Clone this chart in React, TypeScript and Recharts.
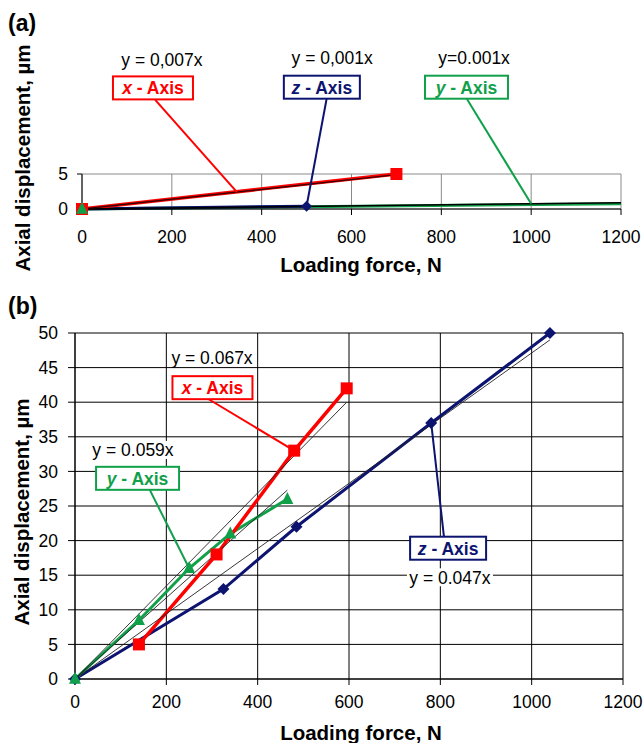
import React from "react";
import {
  LineChart,
  Line,
  XAxis,
  YAxis,
  CartesianGrid,
  ReferenceLine,
  ReferenceDot,
} from "recharts";

const RED = "#ff0000";
const GREEN = "#11a04a";
const NAVY = "#0c1470";
const FONT = "'Liberation Sans', Arial, sans-serif";

// loading force (N) -> axial displacement (um)
const forceTicks = [0, 200, 400, 600, 800, 1000, 1200];

// panel (a)
const aDispTicks = [0, 5];
const aXAxis = [{ f: 0, d: 0 }, { f: 700, d: 5 }];
const aZAxis = [{ f: 0, d: 0 }, { f: 500, d: 0.4 }];
const aYAxis = [{ f: 0, d: 0 }, { f: 1200, d: 0.75 }];
const aTrendX = [{ f: 0, d: 0 }, { f: 700, d: 4.9 }];
const aTrendYZ = [{ f: 0, d: 0 }, { f: 1200, d: 0.9 }];

// panel (b)
const bDispTicks = [0, 5, 10, 15, 20, 25, 30, 35, 40, 45, 50];
const bXAxis = [
  { f: 140, d: 5 },
  { f: 310, d: 18 },
  { f: 480, d: 33 },
  { f: 595, d: 42 },
];
const bYAxis = [
  { f: 0, d: 0 },
  { f: 140, d: 8.5 },
  { f: 250, d: 16 },
  { f: 340, d: 21 },
  { f: 465, d: 26 },
];
const bZAxis = [
  { f: 0, d: 0 },
  { f: 325, d: 13 },
  { f: 485, d: 22 },
  { f: 780, d: 37 },
  { f: 1040, d: 50 },
];
const bTrendX = [{ f: 0, d: 0 }, { f: 595, d: 40 }];
const bTrendY = [{ f: 0, d: 0 }, { f: 465, d: 27.3 }];
const bTrendZ = [{ f: 0, d: 0 }, { f: 1040, d: 49 }];

// callouts, placed in data units
const notesA = [
  { label: "x", color: RED, box: [158, 17.3], w: 80, from: [163, 15.6], to: [345, 2.4], eq: "y = 0,007x", eqAt: [178, 21.3] },
  { label: "z", color: NAVY, box: [534, 17.4], w: 76, from: [545, 15.9], to: [500, 0.4], eq: "y = 0,001x", eqAt: [557, 21.6] },
  { label: "y", color: GREEN, box: [856, 17.4], w: 83, from: [857, 15.7], to: [1000, 0.75], eq: "y=0.001x", eqAt: [873, 21.6] },
];
const notesB = [
  { label: "x", color: RED, box: [301, 42.1], w: 80, from: [291, 40.5], to: [480, 33], eq: "y = 0.067x", eqAt: [300, 46.4] },
  { label: "y", color: GREEN, box: [137, 29], w: 83, from: [164, 27.3], to: [250, 16], eq: "y = 0.059x", eqAt: [127, 33.1] },
  { label: "z", color: NAVY, box: [817, 18.9], w: 76, from: [808, 20.5], to: [780, 37], eq: "y = 0.047x", eqAt: [821, 14.7] },
];

const squareDot = (s: number, color: string) => (p: any) => {
  if (p.cx == null) return <g key={`sq${p.index}`} />;
  return <rect key={`sq${p.index}`} x={p.cx - s / 2} y={p.cy - s / 2} width={s} height={s} fill={color} />;
};

const triangleDot = (s: number, color: string, onlyFirst = false) => (p: any) => {
  if (p.cx == null || (onlyFirst && p.index > 0)) return <g key={`tr${p.index}`} />;
  const { cx, cy } = p;
  return (
    <polygon
      key={`tr${p.index}`}
      points={`${cx},${cy - s * 0.6} ${cx - s / 2},${cy + s * 0.4} ${cx + s / 2},${cy + s * 0.4}`}
      fill={color}
    />
  );
};

const diamondDot = (s: number, color: string) => (p: any) => {
  if (p.cx == null) return <g key={`dm${p.index}`} />;
  const { cx, cy } = p;
  return (
    <polygon
      key={`dm${p.index}`}
      points={`${cx},${cy - s / 2} ${cx + s / 2},${cy} ${cx},${cy + s / 2} ${cx - s / 2},${cy}`}
      fill={color}
    />
  );
};

const boxShape = (label: string, color: string, w: number) => (p: any) => (
  <g>
    <rect x={p.cx - w / 2} y={p.cy - 11.5} width={w} height={23} fill="#fff" stroke={color} strokeWidth={2} />
    <text
      x={p.cx}
      y={p.cy}
      dy="0.36em"
      textAnchor="middle"
      fill={color}
      fontFamily={FONT}
      fontWeight="bold"
      fontSize={17.5}
    >
      <tspan fontStyle="italic">{label}</tspan> - Axis
    </text>
  </g>
);

const eqShape = (eq: string) => (p: any) => (
  <g>
    <rect x={p.cx - 43} y={p.cy - 9} width={86} height={18} fill="#fff" />
    <text x={p.cx} y={p.cy} dy="0.36em" textAnchor="middle" fill="#000" fontFamily={FONT} fontSize={17.5}>
      {eq}
    </text>
  </g>
);

function renderNotes(notes: typeof notesA) {
  return notes.flatMap((n) => [
    <ReferenceLine
      key={`l${n.label}`}
      segment={[
        { x: n.from[0], y: n.from[1] },
        { x: n.to[0], y: n.to[1] },
      ]}
      stroke={n.color}
      strokeWidth={2}
      ifOverflow="visible"
    />,
    <ReferenceDot
      key={`e${n.label}`}
      x={n.eqAt[0]}
      y={n.eqAt[1]}
      r={1}
      ifOverflow="visible"
      shape={eqShape(n.eq)}
    />,
    <ReferenceDot
      key={`b${n.label}`}
      x={n.box[0]}
      y={n.box[1]}
      r={1}
      ifOverflow="visible"
      shape={boxShape(n.label, n.color, n.w)}
    />,
  ]);
}

const tickStyle = { fill: "#000", fontSize: 17.5, fontFamily: FONT };
const titleProps = { fontFamily: FONT, fontWeight: "bold" as const, fontSize: 20.5, fill: "#000" };

function PanelA() {
  return (
    <LineChart width={644} height={290} margin={{ top: 174, right: 23, bottom: 0, left: 0 }}>
      <CartesianGrid stroke="#8a8a8a" strokeWidth={1} />
      <XAxis
        type="number"
        dataKey="f"
        domain={[0, 1200]}
        ticks={forceTicks}
        interval={0}
        height={81}
        tick={tickStyle}
        tickSize={6}
        tickMargin={16}
        axisLine={{ stroke: "#000" }}
        tickLine={{ stroke: "#000" }}
      />
      <YAxis
        type="number"
        dataKey="d"
        domain={[0, 5]}
        ticks={aDispTicks}
        width={82}
        tick={tickStyle}
        tickSize={5}
        tickMargin={9}
        axisLine={{ stroke: "#000" }}
        tickLine={{ stroke: "#000" }}
      />
      <Line data={aYAxis} dataKey="d" stroke={GREEN} strokeWidth={3} dot={false} isAnimationActive={false} />
      <Line data={aZAxis} dataKey="d" stroke={NAVY} strokeWidth={3} dot={diamondDot(11, NAVY)} isAnimationActive={false} />
      <Line data={aXAxis} dataKey="d" stroke={RED} strokeWidth={3.5} dot={squareDot(12, RED)} isAnimationActive={false} />
      <Line data={aTrendYZ} dataKey="d" stroke="#000" strokeWidth={1.5} dot={false} isAnimationActive={false} />
      <Line data={aTrendX} dataKey="d" stroke="#400000" strokeWidth={1.3} dot={false} isAnimationActive={false} />
      <Line data={aYAxis} dataKey="d" stroke="none" dot={triangleDot(12, GREEN, true)} isAnimationActive={false} />
      {renderNotes(notesA)}
      <text x={8} y={31} fontFamily={FONT} fontWeight="bold" fontSize={23} fill="#000">
        (a)
      </text>
      <text x={361} y={265} dy="0.36em" textAnchor="middle" {...titleProps}>
        Loading force, N
      </text>
      <text x={23} y={158} dy="0.36em" textAnchor="middle" transform="rotate(-90 23 158)" {...titleProps}>
        Axial displacement, µm
      </text>
    </LineChart>
  );
}

function PanelB() {
  return (
    <LineChart width={644} height={453} margin={{ top: 43, right: 21, bottom: 0, left: 0 }}>
      <CartesianGrid stroke="#000" strokeWidth={1} />
      <XAxis
        type="number"
        dataKey="f"
        domain={[0, 1200]}
        ticks={forceTicks}
        interval={0}
        height={64}
        tick={tickStyle}
        tickSize={6}
        tickMargin={11}
        axisLine={{ stroke: "#000" }}
        tickLine={{ stroke: "#000" }}
      />
      <YAxis
        type="number"
        dataKey="d"
        domain={[0, 50]}
        ticks={bDispTicks}
        interval={0}
        width={75}
        tick={tickStyle}
        tickSize={7}
        tickMargin={10}
        axisLine={{ stroke: "#000" }}
        tickLine={{ stroke: "#000" }}
      />
      <Line data={bZAxis} dataKey="d" stroke={NAVY} strokeWidth={3} dot={diamondDot(12, NAVY)} isAnimationActive={false} />
      <Line data={bYAxis} dataKey="d" stroke={GREEN} strokeWidth={3} dot={triangleDot(12, GREEN)} isAnimationActive={false} />
      <Line data={bXAxis} dataKey="d" stroke={RED} strokeWidth={3.5} dot={squareDot(12, RED)} isAnimationActive={false} />
      <Line data={bTrendX} dataKey="d" stroke="#222" strokeWidth={0.9} dot={false} isAnimationActive={false} />
      <Line data={bTrendY} dataKey="d" stroke="#222" strokeWidth={0.9} dot={false} isAnimationActive={false} />
      <Line data={bTrendZ} dataKey="d" stroke="#222" strokeWidth={0.9} dot={false} isAnimationActive={false} />
      {renderNotes(notesB)}
      <text x={8} y={24} fontFamily={FONT} fontWeight="bold" fontSize={23} fill="#000">
        (b)
      </text>
      <text x={361} y={443} dy="0.36em" textAnchor="middle" {...titleProps}>
        Loading force, N
      </text>
      <text x={22} y={222} dy="0.36em" textAnchor="middle" transform="rotate(-90 22 222)" {...titleProps}>
        Axial displacement, µm
      </text>
    </LineChart>
  );
}

export default function App() {
  return (
    <div style={{ width: 644, height: 743, background: "#fff", fontFamily: FONT }}>
      <style>{`body{margin:0;background:#fff}`}</style>
      <PanelA />
      <PanelB />
    </div>
  );
}
